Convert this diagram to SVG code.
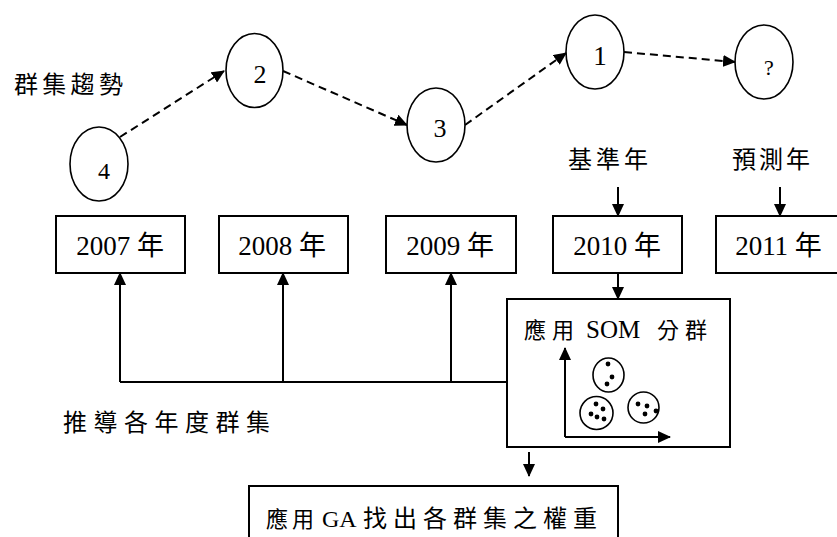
<svg xmlns="http://www.w3.org/2000/svg" width="837" height="537" viewBox="0 0 837 537">
  <style>
    .box { fill: #fff; stroke: #000; stroke-width: 2; }
    .ell { fill: #fff; stroke: #000; stroke-width: 1.6; }
    .txt { font-family: 'Liberation Serif', 'Times New Roman', 'Noto Sans CJK TC', serif; fill: #000; }
    .num { font-family: 'Liberation Serif', 'Times New Roman', serif; fill: #000; text-anchor: middle; }
    .yr { font-family: 'Liberation Serif', 'Times New Roman', 'Noto Sans CJK TC', serif; fill: #000; text-anchor: middle; font-size: 27px; }
    .dash { fill: none; stroke: #000; stroke-width: 2; stroke-dasharray: 8 5; }
    .solid { fill: none; stroke: #000; stroke-width: 2; }
    .dot { fill: #000; }
  </style>
  <defs>
    <marker id="arrow" viewBox="0 0 13 12" refX="12" refY="6" markerWidth="13" markerHeight="12" markerUnits="userSpaceOnUse" orient="auto">
      <path d="M0,0 L13,6 L0,12 z" fill="#000"/>
    </marker>
  </defs>

  <rect width="837" height="537" fill="#fff"/>

  <!-- side labels -->
  <text class="txt" x="14" y="93" font-size="24" letter-spacing="4.3">群集趨勢</text>
  <text class="txt" x="63" y="431" font-size="24" letter-spacing="6.5">推導各年度群集</text>
  <text class="txt" x="568" y="168" font-size="24" letter-spacing="4">基準年</text>
  <text class="txt" x="732" y="168" font-size="24" letter-spacing="3">預測年</text>

  <!-- cluster trend nodes -->
  <g id="trend-4">
    <ellipse class="ell" cx="99" cy="164" rx="29" ry="37"/>
    <text class="num" x="104" y="179" font-size="24">4</text>
  </g>
  <g id="trend-2">
    <ellipse class="ell" cx="254.5" cy="70.5" rx="28.5" ry="37"/>
    <text class="num" x="260" y="83" font-size="26">2</text>
  </g>
  <g id="trend-3">
    <ellipse class="ell" cx="436" cy="125" rx="29" ry="37"/>
    <text class="num" x="440" y="137" font-size="26">3</text>
  </g>
  <g id="trend-1">
    <ellipse class="ell" cx="595" cy="52" rx="29" ry="37"/>
    <text class="num" x="600" y="65" font-size="27">1</text>
  </g>
  <g id="trend-next">
    <ellipse class="ell" cx="764" cy="62" rx="29" ry="37"/>
    <text class="num" x="769" y="75" font-size="22">?</text>
  </g>

  <!-- year boxes -->
  <g id="year-2007">
    <rect class="box" x="56" y="216" width="129" height="57"/>
    <text class="yr" x="120" y="255">2007 年</text>
  </g>
  <g id="year-2008">
    <rect class="box" x="219" y="216" width="129" height="57"/>
    <text class="yr" x="282" y="255">2008 年</text>
  </g>
  <g id="year-2009">
    <rect class="box" x="386" y="216" width="130" height="57"/>
    <text class="yr" x="450" y="255">2009 年</text>
  </g>
  <g id="year-2010">
    <rect class="box" x="553" y="216" width="129" height="57"/>
    <text class="yr" x="617" y="255">2010 年</text>
  </g>
  <g id="year-2011">
    <rect class="box" x="716" y="216" width="129" height="57"/>
    <text class="yr" x="778.5" y="255">2011 年</text>
  </g>

  <!-- SOM clustering box -->
  <g id="som">
    <rect class="box" x="507" y="299" width="223" height="148"/>
    <text class="txt" y="338" font-size="22"><tspan x="524" letter-spacing="6">應用</tspan><tspan x="586" font-size="25">SOM</tspan><tspan x="657" letter-spacing="6">分群</tspan></text>
    <path class="solid" d="M565,437 V348" marker-end="url(#arrow)"/>
    <path class="solid" d="M565,437 H670" marker-end="url(#arrow)"/>
    <ellipse class="ell" cx="608.5" cy="375" rx="15.5" ry="17"/>
    <circle class="dot" cx="608" cy="364" r="2.4"/>
    <circle class="dot" cx="612" cy="377" r="2.4"/>
    <circle class="dot" cx="607" cy="384" r="2.4"/>
    <ellipse class="ell" cx="596.5" cy="413" rx="16.5" ry="16.5"/>
    <circle class="dot" cx="596" cy="404" r="2.4"/>
    <circle class="dot" cx="603" cy="409" r="2.4"/>
    <circle class="dot" cx="591" cy="414" r="2.4"/>
    <circle class="dot" cx="597" cy="417" r="2.4"/>
    <circle class="dot" cx="604" cy="419" r="2.4"/>
    <ellipse class="ell" cx="643.5" cy="407.5" rx="15.5" ry="15.5"/>
    <circle class="dot" cx="638" cy="404" r="2.4"/>
    <circle class="dot" cx="647" cy="406" r="2.4"/>
    <circle class="dot" cx="656" cy="411" r="2.4"/>
    <circle class="dot" cx="645" cy="414" r="2.4"/>
  </g>

  <!-- GA weighting box -->
  <g id="ga">
    <rect class="box" x="249" y="486" width="369" height="70"/>
    <text class="txt" y="527" font-size="22"><tspan x="266" letter-spacing="4">應用</tspan><tspan x="322" font-size="24">GA</tspan><tspan x="363" font-size="24" letter-spacing="6">找出各群集之權重</tspan></text>
  </g>

  <!-- connectors -->
  <g id="connectors">
    <path class="dash" d="M120,137 L224,71" marker-end="url(#arrow)"/>
    <path class="dash" d="M283,71 L407,125" marker-end="url(#arrow)"/>
    <path class="dash" d="M465,125 L566,53" marker-end="url(#arrow)"/>
    <path class="dash" d="M624,52 L735,62" marker-end="url(#arrow)"/>

    <path class="solid" d="M618,187 V216" marker-end="url(#arrow)"/>
    <path class="solid" d="M780,187 V216" marker-end="url(#arrow)"/>
    <path class="solid" d="M618,273 V299" marker-end="url(#arrow)"/>

    <path class="solid" d="M507,382 H120"/>
    <path class="solid" d="M120,382 V273" marker-end="url(#arrow)"/>
    <path class="solid" d="M283,382 V273" marker-end="url(#arrow)"/>
    <path class="solid" d="M451,382 V273" marker-end="url(#arrow)"/>

    <path class="solid" d="M529,452 V476" marker-end="url(#arrow)"/>
  </g>
</svg>
